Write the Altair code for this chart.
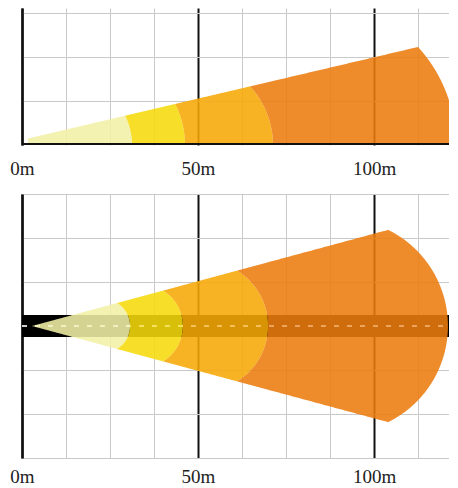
import altair as alt
import numpy as np
import pandas as pd

# ---------------- data (metres) ----------------
X_MAX = 121.3
x_grid = [0, 12.5, 25, 37.5, 50, 62.5, 75, 87.5, 100, 112.5]
side_y_grid = [12.5, 25, 37.5]
side_y_max = 38.9
plan_y_grid = [-37.5, -25, -12.5, 0, 12.5, 25, 37.5]
plan_y_max = 37.5

zone_names = ["z1", "z2", "z3", "z4"]
zone_fill = ["#f2f0a6", "#f6d90b", "#f6a806", "#ec7b0e"]

# side view (top panel)
side_tip_x = 1.7
side_tip_h = 1.85
side_slope = 0.2345
side_corner_x = [29.3, 43.5, 64.8, 112.5]
side_reach_x = [31.25, 46.3, 71.3, 123.3]

# plan view (bottom panel)
plan_tip_x = 2.84
plan_slope = 0.27
plan_corner_x = [27.0, 40.1, 61.1, 104.0]
plan_reach_x = [30.7, 45.7, 69.9, 121.0]

road_x = [0, X_MAX]
road_half_width = 3.125
ground_x = [0, X_MAX]

# ---------------- geometry helpers ----------------
def boundary(corner_x, reach_x, edge):
    hc = edge(corner_x)
    c = (reach_x ** 2 - corner_x ** 2 - hc ** 2) / (2 * (reach_x - corner_x))
    return c, reach_x - c, hc


def arc(b, x):
    c, r, _ = b
    return np.sqrt(np.clip(r * r - (x - c) ** 2, 0, None))


def beam_rows(tip_x, edge, corners, reaches, mirror):
    bounds = [boundary(cx, rx, edge) for cx, rx in zip(corners, reaches)]
    frames = []
    for k, name in enumerate(zone_names):
        c_o, r_o, h_o = bounds[k]
        start = tip_x if k == 0 else corners[k - 1]
        phi_o = np.arctan2(h_o, corners[k] - c_o)
        xs = [np.linspace(start, corners[k], 150),
              c_o + r_o * np.cos(np.linspace(phi_o, 0, 150))]
        if k > 0:
            c_i, r_i, h_i = bounds[k - 1]
            phi_i = np.arctan2(h_i, corners[k - 1] - c_i)
            xs.append(c_i + r_i * np.cos(np.linspace(phi_i, 0, 150)))
        x = np.unique(np.concatenate(xs))
        x = x[(x >= start - 1e-9) & (x <= reaches[k] + 1e-9)]
        hi = np.where(x <= corners[k], edge(x), np.minimum(edge(x), arc(bounds[k], x)))
        if k == 0:
            lo = np.zeros_like(x)
        else:
            lo = np.where(x < reaches[k - 1], arc(bounds[k - 1], x), 0.0)
            lo = np.minimum(lo, hi)
        frames.append(pd.DataFrame({"x": x, "hi": hi, "lo": lo, "zone": name, "piece": f"{name}u"}))
        if mirror:
            frames.append(pd.DataFrame({"x": x, "hi": -lo, "lo": -hi, "zone": name, "piece": f"{name}d"}))
    return pd.concat(frames, ignore_index=True)


side_df = beam_rows(side_tip_x, lambda x: side_tip_h + side_slope * (np.asarray(x) - side_tip_x),
                    side_corner_x, side_reach_x, False)
plan_df = beam_rows(plan_tip_x, lambda x: plan_slope * (np.asarray(x) - plan_tip_x),
                    plan_corner_x, plan_reach_x, True)

# ---------------- axes ----------------
FONT = "Liberation Serif"


def x_axis(pad):
    return alt.Axis(
        values=x_grid, grid=True, ticks=False, tickSize=0, title=None, domain=False,
        labelExpr="datum.value % 50 === 0 ? datum.value + 'm' : ''",
        labelFont=FONT, labelFontSize=19, labelColor="#222", labelPadding=pad,
        labelFlush=False, labelOverlap=False, labelBound=False,
        gridColor={"condition": {"test": "datum.value % 50 === 0", "value": "#111"}, "value": "#c9c9c9"},
        gridWidth={"condition": {"test": "datum.value % 50 === 0", "value": 2}, "value": 1},
    )


def y_axis(vals):
    return alt.Axis(values=vals, grid=True, ticks=False, labels=False, title=None,
                    domain=True, domainColor="#111", domainWidth=2.5,
                    gridColor="#c9c9c9", gridWidth=1)


xscale = alt.Scale(domain=[0, X_MAX], nice=False, zero=False)
color = alt.Color("zone:N", scale=alt.Scale(domain=zone_names, range=zone_fill), legend=None)

W = 427
# ---------------- top panel (side view) ----------------
side_beam = alt.Chart(side_df).mark_area(opacity=0.88, clip=True).encode(
    x=alt.X("x:Q", scale=xscale, axis=x_axis(14)),
    y=alt.Y("hi:Q", scale=alt.Scale(domain=[0, side_y_max], nice=False), axis=y_axis(side_y_grid), stack=None),
    y2="lo:Q",
    color=color,
    detail="piece:N",
)
ground = alt.Chart(pd.DataFrame({"x": [ground_x[0]], "x2": [ground_x[1]], "y": [0]})).mark_rule(
    color="#111", strokeWidth=4, clip=True
).encode(x="x:Q", x2="x2:Q", y="y:Q")
top = alt.layer(side_beam, ground).properties(width=W, height=137)

# ---------------- bottom panel (plan view) ----------------
road_df = pd.DataFrame({"x": [road_x[0]], "x2": [road_x[1]],
                        "y": [-road_half_width], "y2": [road_half_width], "c": [0]})
road = alt.Chart(road_df).mark_rect(color="#000", clip=True).encode(
    x=alt.X("x:Q", scale=xscale, axis=x_axis(9)),
    x2="x2:Q",
    y=alt.Y("y:Q", scale=alt.Scale(domain=[-plan_y_max, plan_y_max], nice=False), axis=y_axis(plan_y_grid)),
    y2="y2:Q",
)
dash_under = alt.Chart(road_df).mark_rule(color="#fff", strokeWidth=1.5, strokeDash=[5, 8], clip=True).encode(
    x="x:Q", x2="x2:Q", y="c:Q")
plan_beam = alt.Chart(plan_df).mark_area(opacity=0.88, clip=True).encode(
    x="x:Q",
    y=alt.Y("hi:Q", stack=None),
    y2="lo:Q",
    color=color,
    detail="piece:N",
)
dash_over = alt.Chart(road_df).mark_rule(color="#fff", strokeWidth=1.5, strokeDash=[5, 8], opacity=0.35,
                                         clip=True).encode(x="x:Q", x2="x2:Q", y="c:Q")
bottom = alt.layer(road, dash_under, plan_beam, dash_over).properties(width=W, height=264)

chart = alt.vconcat(top, bottom, spacing=16).resolve_scale(x="independent", y="independent").properties(
    padding={"left": 1, "top": 0, "right": 0, "bottom": 0}
).configure_view(stroke=None)

chart.save("out.html", embed_options={"renderer": "svg", "actions": False})
